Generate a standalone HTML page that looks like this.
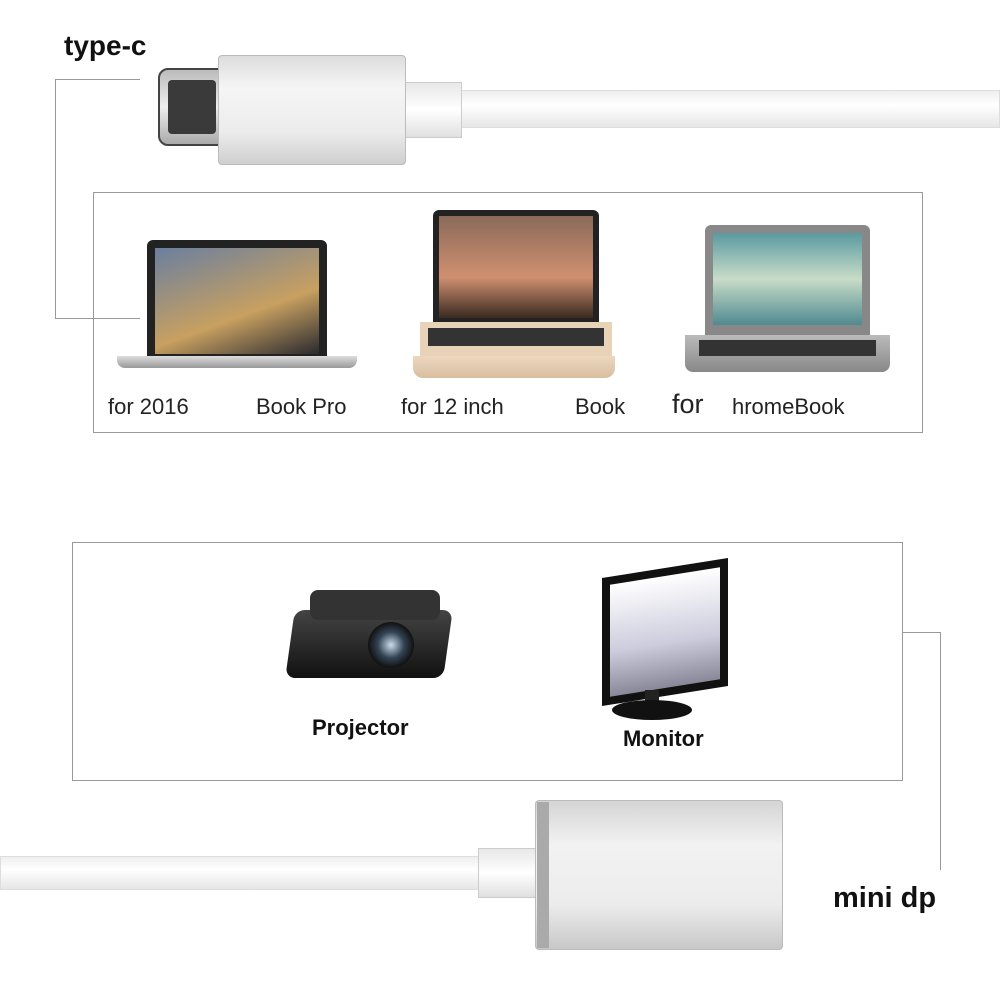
<!DOCTYPE html>
<html><head><meta charset="utf-8"><style>
body{margin:0;width:1000px;height:1000px;background:#fff;position:relative;overflow:hidden;font-family:"Liberation Sans",sans-serif}
div{position:absolute;box-sizing:border-box}
.t{color:#222;font-size:22px;white-space:nowrap}
.b{font-weight:bold;color:#111}
</style></head><body>
<div class="b" style="left:64px;top:30px;font-size:28px">type-c</div>
<div style="left:55px;top:79px;width:85px;height:240px;border-left:1px solid #999;border-top:1px solid #999;border-bottom:1px solid #999"></div>
<div style="left:460px;top:90px;width:540px;height:38px;background:linear-gradient(#eee,#fff 40%,#e6e6e6);border:1px solid #ddd"></div>
<div style="left:404px;top:82px;width:58px;height:56px;background:linear-gradient(#e8e8e8,#fff,#e0e0e0);border:1px solid #ccc"></div>
<div style="left:158px;top:68px;width:62px;height:78px;background:linear-gradient(#bbb,#eee 50%,#aaa);border-radius:10px 0 0 10px;border:2px solid #444"></div>
<div style="left:168px;top:80px;width:48px;height:54px;background:#3a3a3a;border-radius:4px"></div>
<div style="left:218px;top:55px;width:188px;height:110px;background:linear-gradient(#ddd,#f5f5f5 30%,#ececec 70%,#cfcfcf);border:1px solid #bbb;border-radius:4px"></div>

<div style="left:93px;top:192px;width:830px;height:241px;border:1px solid #999"></div>
<div style="left:147px;top:240px;width:180px;height:118px;background:#222;border-radius:6px 6px 0 0;padding:8px"><div style="left:8px;top:8px;right:8px;bottom:4px;background:linear-gradient(160deg,#6a7fa0,#c8a060 60%,#2a2a30)"></div></div>
<div style="left:117px;top:356px;width:240px;height:12px;background:linear-gradient(#ddd,#999);border-radius:0 0 8px 8px"></div>
<div style="left:433px;top:210px;width:166px;height:112px;background:#222;border-radius:6px 6px 0 0"><div style="left:6px;top:6px;right:6px;bottom:4px;background:linear-gradient(#8a6a5a,#d09070 60%,#3a2a22)"></div></div>
<div style="left:420px;top:322px;width:192px;height:34px;background:#e8d2b8"><div style="left:8px;top:6px;right:8px;height:18px;background:#333"></div></div>
<div style="left:413px;top:356px;width:202px;height:22px;background:linear-gradient(#ecd8c0,#d8bea0);border-radius:0 0 10px 10px"></div>
<div style="left:705px;top:225px;width:165px;height:110px;background:#888;border-radius:6px 6px 0 0"><div style="left:8px;top:8px;right:8px;bottom:10px;background:linear-gradient(#5a9aa0,#c8dcc8 50%,#508a90)"></div></div>
<div style="left:685px;top:335px;width:205px;height:37px;background:linear-gradient(#bbb,#888);border-radius:0 0 8px 8px"><div style="left:14px;top:5px;right:14px;height:16px;background:#333"></div></div>
<div class="t" style="left:108px;top:394px">for 2016</div>
<div class="t" style="left:256px;top:394px">Book Pro</div>
<div class="t" style="left:401px;top:394px">for 12 inch</div>
<div class="t" style="left:575px;top:394px">Book</div>
<div class="t" style="left:672px;top:389px;font-size:27px">for</div>
<div class="t" style="left:732px;top:394px">hromeBook</div>

<div style="left:72px;top:542px;width:831px;height:239px;border:1px solid #999"></div>
<div style="left:290px;top:610px;width:158px;height:68px;background:linear-gradient(#444,#111);border-radius:10px;transform:skewX(-8deg)"></div>
<div style="left:310px;top:590px;width:130px;height:30px;background:#333;border-radius:8px"></div>
<div style="left:368px;top:622px;width:46px;height:46px;background:radial-gradient(#cde,#345 40%,#111 70%);border-radius:50%"></div>
<div class="b" style="left:312px;top:715px;font-size:22px">Projector</div>
<div style="left:602px;top:568px;width:126px;height:128px;background:#111;transform:skewY(-9deg);padding:8px"><div style="left:8px;top:8px;right:8px;bottom:8px;background:linear-gradient(#fff,#ccd 60%,#889)"></div></div>
<div style="left:645px;top:690px;width:14px;height:14px;background:#222"></div>
<div style="left:612px;top:700px;width:80px;height:20px;background:#111;border-radius:50%"></div>
<div class="b" style="left:623px;top:726px;font-size:22px">Monitor</div>

<div style="left:903px;top:632px;width:38px;height:238px;border-top:1px solid #999;border-right:1px solid #999"></div>
<div class="b" style="left:833px;top:882px;font-size:29px">mini dp</div>
<div style="left:0;top:856px;width:482px;height:34px;background:linear-gradient(#eee,#fff 40%,#e6e6e6);border:1px solid #ddd"></div>
<div style="left:478px;top:848px;width:60px;height:50px;background:linear-gradient(#e8e8e8,#fff,#e0e0e0);border:1px solid #ccc"></div>
<div style="left:535px;top:800px;width:248px;height:150px;background:linear-gradient(#d5d5d5,#f2f2f2 30%,#ececec 70%,#c8c8c8);border:1px solid #bbb;border-radius:4px"></div>
<div style="left:537px;top:802px;width:12px;height:146px;background:#aaa"></div>
</body></html>
